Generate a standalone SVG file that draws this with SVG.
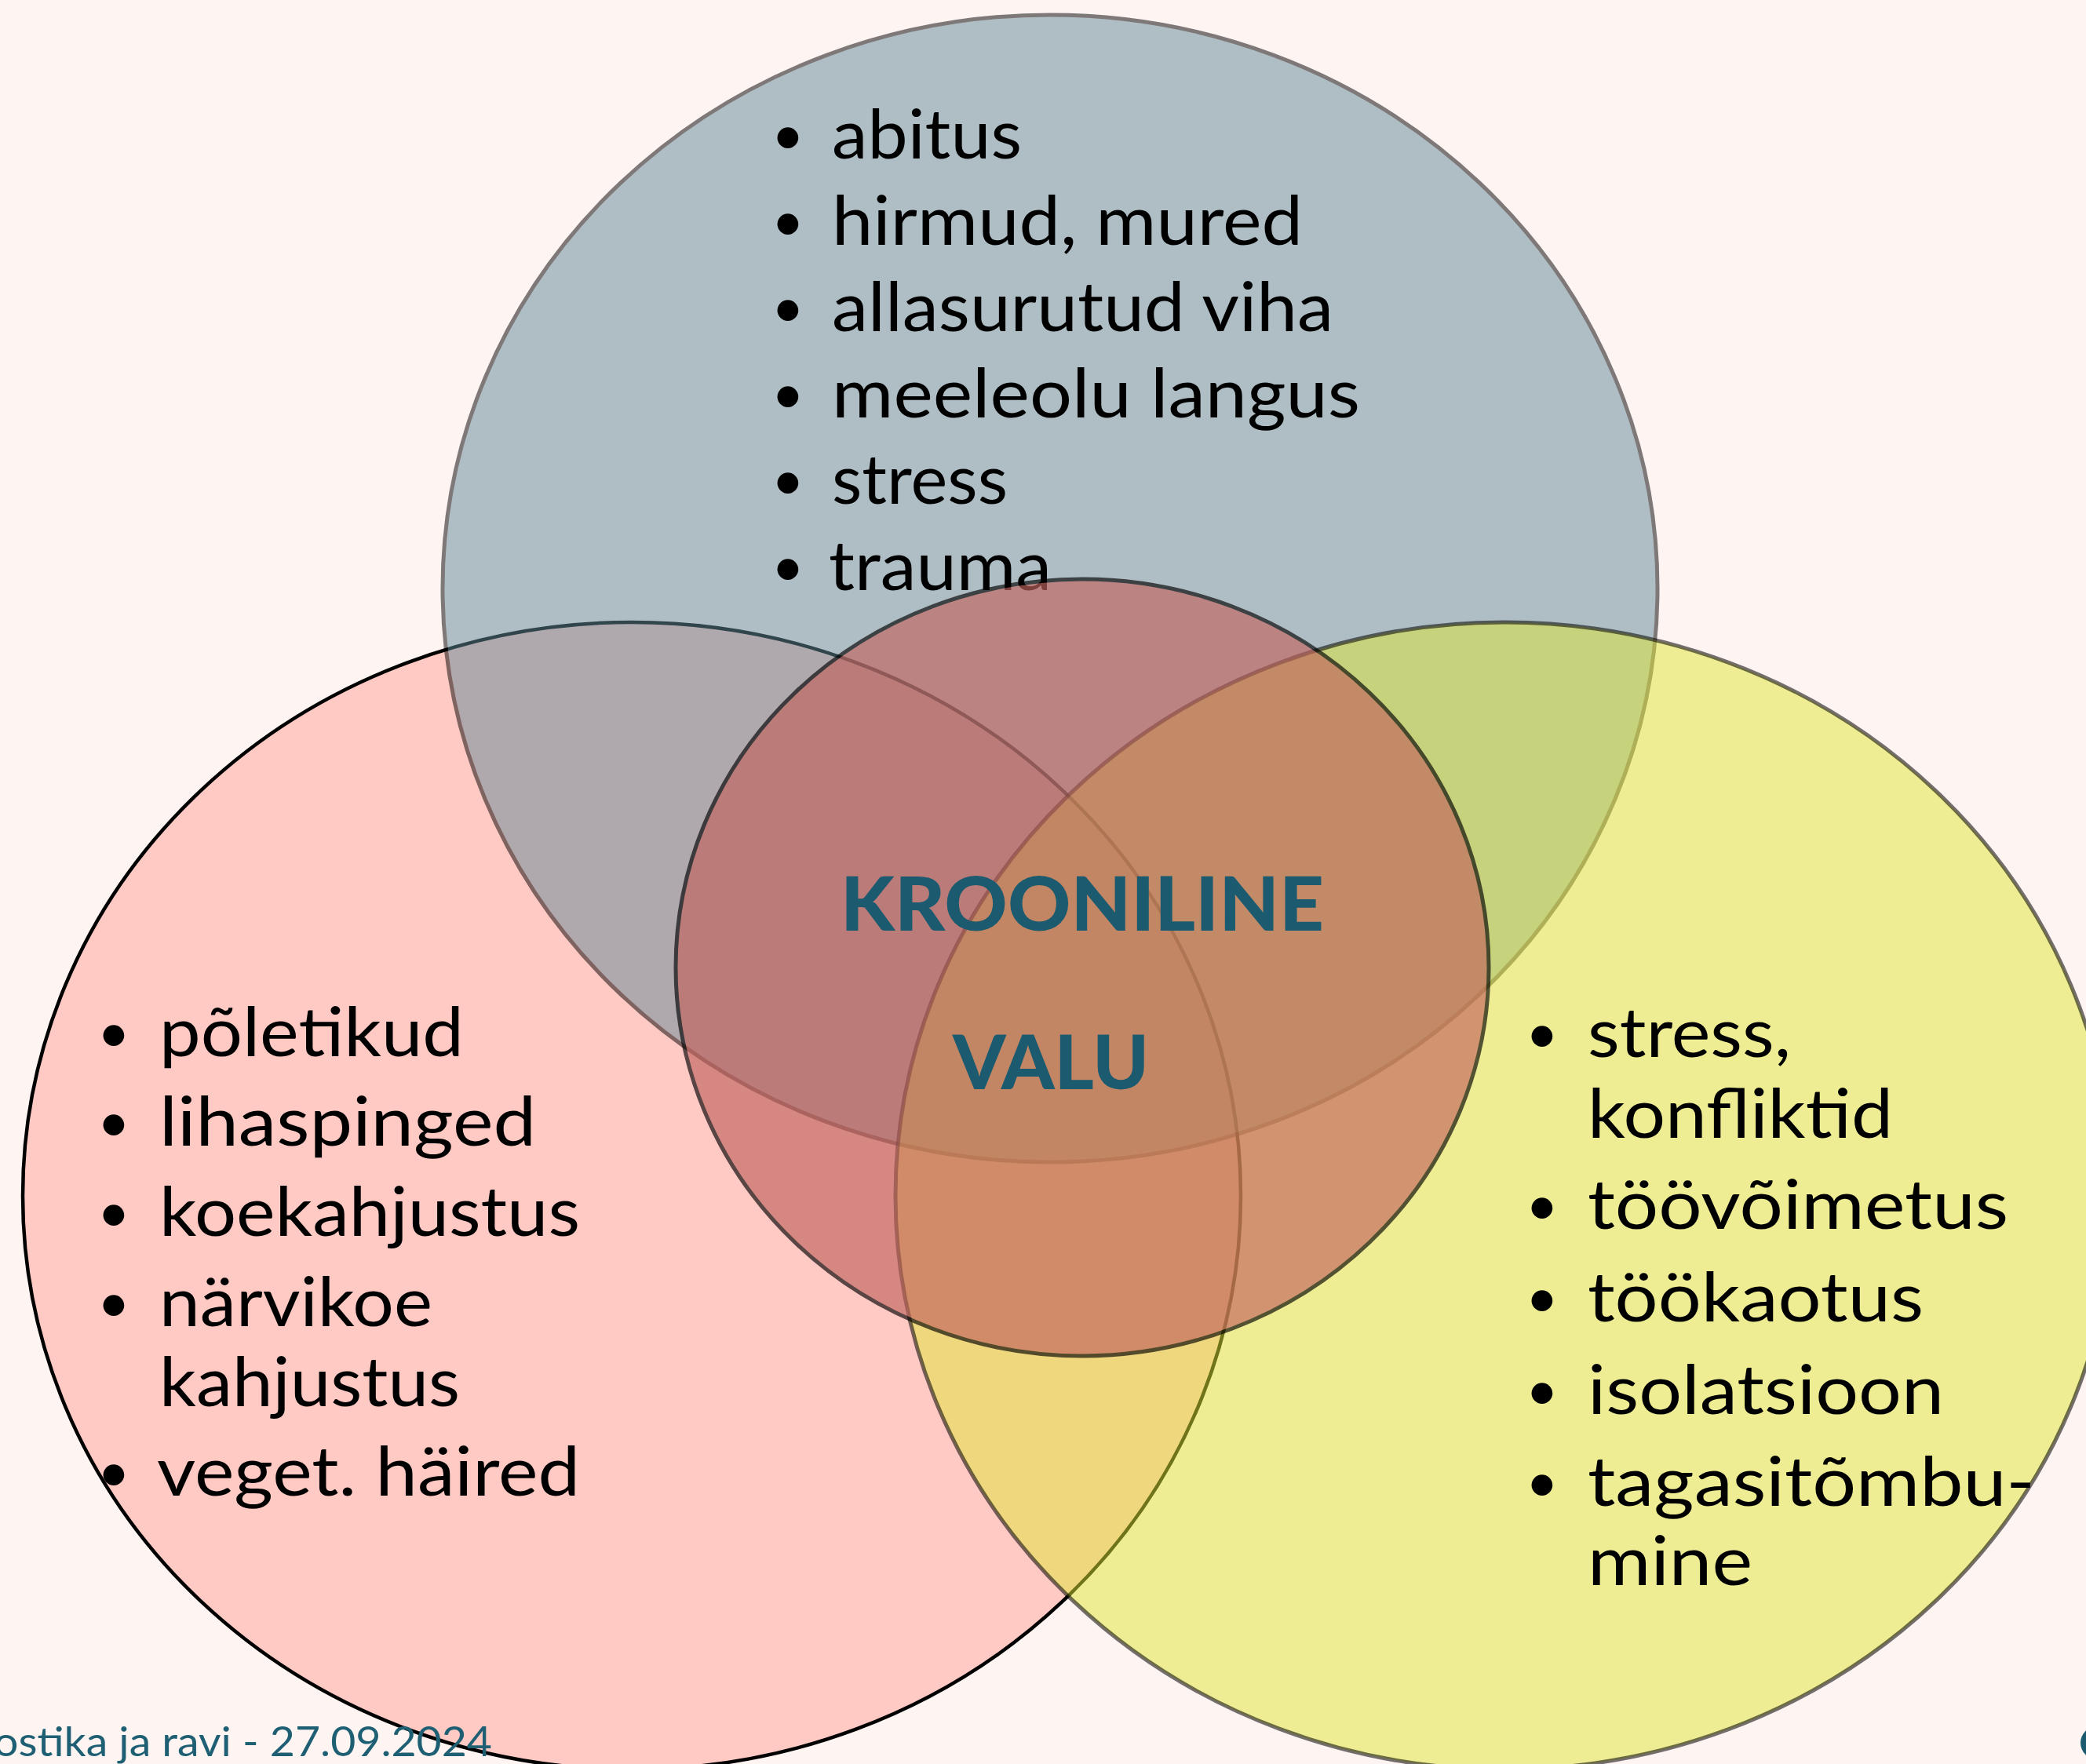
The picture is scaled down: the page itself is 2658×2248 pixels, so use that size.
<svg xmlns="http://www.w3.org/2000/svg" width="2658" height="2248" viewBox="0 0 2658 2248">
  <style>
    .item { font-family: Lato, "Liberation Sans", sans-serif; font-size: 88px; fill: #000; }
    .bullet { font-family: Lato, "Liberation Sans", sans-serif; font-size: 72px; fill: #000; text-anchor: middle; }
    .title { font-family: Lato, "Liberation Sans", sans-serif; font-weight: 900; font-size: 95px; fill: #1c5b6f; }
    .footer { font-family: Lato, "Liberation Sans", sans-serif; font-size: 52px; fill: #1f5f73; }
  </style>

  <!-- slide background -->
  <rect x="0" y="0" width="2658" height="2248" fill="#fef4f2"/>

  <!-- body: inflammation, tension, tissue damage -->
  <g id="node-body">
    <ellipse cx="805" cy="1524" rx="776" ry="731" fill="#ffc9c4" stroke="#000" stroke-width="4.5"/>
    <g>
      <text class="bullet" x="145" y="1341">•</text>
      <text class="item" x="203" y="1346" textLength="388" lengthAdjust="spacingAndGlyphs">põletikud</text>
      <text class="bullet" x="145" y="1455">•</text>
      <text class="item" x="203" y="1460" textLength="480" lengthAdjust="spacingAndGlyphs">lihaspinged</text>
      <text class="bullet" x="145" y="1570">•</text>
      <text class="item" x="203" y="1575" textLength="536" lengthAdjust="spacingAndGlyphs">koekahjustus</text>
      <text class="bullet" x="145" y="1685">•</text>
      <text class="item" x="203" y="1690" textLength="348" lengthAdjust="spacingAndGlyphs">närvikoe</text>
      <text class="item" x="203" y="1792" textLength="383" lengthAdjust="spacingAndGlyphs">kahjustus</text>
      <text class="bullet" x="145" y="1901">•</text>
      <text class="item" x="200" y="1906" textLength="539" lengthAdjust="spacingAndGlyphs">veget. häired</text>
    </g>
  </g>

  <!-- psyche: fears, anger, mood, stress -->
  <g id="node-psyche">
    <ellipse cx="1338" cy="750" rx="774" ry="731" fill="#628a97" stroke="#000" stroke-width="5" opacity="0.5"/>
    <g>
      <text class="bullet" x="1004" y="197">•</text>
      <text class="item" x="1060" y="202" textLength="242" lengthAdjust="spacingAndGlyphs">abitus</text>
      <text class="bullet" x="1004" y="307">•</text>
      <text class="item" x="1060" y="312" textLength="600" lengthAdjust="spacingAndGlyphs">hirmud, mured</text>
      <text class="bullet" x="1004" y="417">•</text>
      <text class="item" x="1060" y="422" textLength="639" lengthAdjust="spacingAndGlyphs">allasurutud viha</text>
      <text class="bullet" x="1004" y="527">•</text>
      <text class="item" x="1060" y="532" textLength="673" lengthAdjust="spacingAndGlyphs">meeleolu langus</text>
      <text class="bullet" x="1004" y="637">•</text>
      <text class="item" x="1060" y="642" textLength="224" lengthAdjust="spacingAndGlyphs">stress</text>
      <text class="bullet" x="1004" y="747">•</text>
      <text class="item" x="1056" y="752" textLength="284" lengthAdjust="spacingAndGlyphs">trauma</text>
    </g>
  </g>

  <!-- social: conflicts, work loss, isolation -->
  <g id="node-social">
    <ellipse cx="1917" cy="1524" rx="776" ry="731" fill="#dee633" fill-opacity="0.5" stroke="#000" stroke-opacity="0.55" stroke-width="5"/>
    <g>
      <text class="bullet" x="1965" y="1342">•</text>
      <text class="item" x="2023" y="1347" textLength="259" lengthAdjust="spacingAndGlyphs">stress,</text>
      <text class="item" x="2023" y="1450" textLength="389" lengthAdjust="spacingAndGlyphs">konfliktid</text>
      <text class="bullet" x="1965" y="1561">•</text>
      <text class="item" x="2023" y="1566" textLength="536" lengthAdjust="spacingAndGlyphs">töövõimetus</text>
      <text class="bullet" x="1965" y="1679">•</text>
      <text class="item" x="2023" y="1684" textLength="428" lengthAdjust="spacingAndGlyphs">töökaotus</text>
      <text class="bullet" x="1965" y="1797">•</text>
      <text class="item" x="2023" y="1802" textLength="454" lengthAdjust="spacingAndGlyphs">isolatsioon</text>
      <text class="bullet" x="1965" y="1914">•</text>
      <text class="item" x="2023" y="1919" textLength="570" lengthAdjust="spacingAndGlyphs">tagasitõmbu-</text>
      <text class="item" x="2023" y="2020" textLength="210" lengthAdjust="spacingAndGlyphs">mine</text>
    </g>
  </g>

  <!-- centre: chronic pain -->
  <g id="node-center">
    <ellipse cx="1379" cy="1233" rx="518" ry="495" fill="#c2645e" stroke="#000" stroke-width="5" opacity="0.65"/>
    <text class="title" x="1071" y="1186" textLength="616" lengthAdjust="spacingAndGlyphs">KROONILINE</text>
    <text class="title" x="1214" y="1388" textLength="250" lengthAdjust="spacingAndGlyphs">VALU</text>
  </g>

  <!-- slide footer -->
  <g id="footer">
    <text class="footer" x="-8" y="2238" textLength="635" lengthAdjust="spacingAndGlyphs">ostika ja ravi - 27.09.2024</text>
    <circle cx="2672" cy="2221" r="21" fill="#1c5b6f"/>
  </g>
</svg>
